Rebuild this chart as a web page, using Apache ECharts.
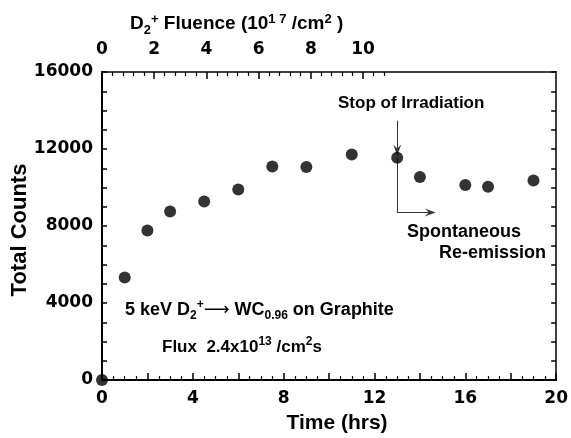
<!DOCTYPE html>
<html><head><meta charset="utf-8">
<script src="https://cdn.jsdelivr.net/npm/echarts@6/dist/echarts.min.js"></script>
<style>html,body{margin:0;padding:0;background:#fff}#c{width:571px;height:438px}</style>
</head><body><div id="c"></div>
<script>
// ---- data ----
const timeHrs = [0, 1, 2, 3, 4.5, 6, 7.5, 9, 11, 13, 14, 16, 17, 19];
const totalCounts = [0, 5330, 7770, 8750, 9270, 9890, 11090, 11060, 11720, 11540, 10540, 10130, 10040, 10360];
const timeTickLabels = [0, 4, 8, 12, 16, 20];
const countTickLabels = [0, 4000, 8000, 12000, 16000];
const fluenceTickLabels = [0, 2, 4, 6, 8, 10];
const fluenceMinorTicks = [0.4, 0.8, 1.2, 1.6, 2.4, 2.8, 3.2, 3.6, 4.4, 4.8, 5.2, 5.6, 6.4, 6.8, 7.2, 7.6, 8.4, 8.8, 9.2, 9.6, 10.4, 10.8];

// annotation arrows (data units)
const stopArrow = [[13, 13470], [13, 11950]];
const reemitStem = [[13, 11540], [13, 8700]];
const reemitArrow = [[13, 8700], [14.45, 8700]];

const FONT = '"Liberation Sans", Arial, Helvetica, sans-serif';
const NUMFONT = '"DejaVu Sans", "Liberation Sans", sans-serif';
const chevron = 'path://M5,0 L10,10 L5,6 L0,10 Z';

const chart = echarts.init(document.getElementById('c'), null, {renderer: 'canvas'});

const labelStyle = {color: '#000', fontFamily: NUMFONT, fontWeight: 'bold', fontSize: 17};
const plain = v => String(v);
const sub = (fs, shift) => ({fontSize: fs, fontWeight: 'bold', fontFamily: FONT, fill: '#000', padding: [shift, 0, 0, 0]});
const sup = (fs, shift) => ({fontSize: fs, fontWeight: 'bold', fontFamily: FONT, fill: '#000', padding: [0, 0, shift, 0]});

chart.setOption({
  animation: false,
  backgroundColor: '#fff',
  grid: {left: 102, right: 12, top: 72, bottom: 58, containLabel: false},
  xAxis: [
    {
      type: 'value', position: 'bottom', min: 0, max: 20, interval: 2,
      axisLine: {show: true, onZero: false, lineStyle: {color: '#000', width: 2}},
      axisTick: {show: true, inside: true, length: 7, lineStyle: {color: '#000', width: 1.5}},
      minorTick: {show: true, splitNumber: 4, length: 4, lineStyle: {color: '#000', width: 1.2}},
      axisLabel: Object.assign({margin: 10, customValues: timeTickLabels, formatter: plain}, labelStyle),
      splitLine: {show: false}, minorSplitLine: {show: false}
    },
    {
      type: 'value', position: 'top', min: 0, max: 17.4,
      axisLine: {show: true, onZero: false, lineStyle: {color: '#000', width: 1.5}},
      axisTick: {show: true, inside: true, length: 7, customValues: fluenceTickLabels, lineStyle: {color: '#000', width: 1.5}},
      axisLabel: Object.assign({margin: 14, customValues: fluenceTickLabels, formatter: plain}, labelStyle),
      splitLine: {show: false}
    },
    {
      type: 'value', position: 'top', min: 0, max: 17.4,
      axisLine: {show: false, onZero: false},
      axisTick: {show: true, inside: true, length: 4, customValues: fluenceMinorTicks, lineStyle: {color: '#000', width: 1.2}},
      axisLabel: {show: false},
      splitLine: {show: false}
    }
  ],
  yAxis: [
    {
      type: 'value', position: 'left', min: 0, max: 16000, interval: 4000,
      axisLine: {show: true, onZero: false, lineStyle: {color: '#000', width: 2}},
      axisTick: {show: true, inside: true, length: 5, lineStyle: {color: '#000', width: 1.5}},
      minorTick: {show: true, splitNumber: 4, length: 5, lineStyle: {color: '#000', width: 1.5}},
      axisLabel: Object.assign({margin: 9, customValues: countTickLabels, formatter: plain}, labelStyle),
      splitLine: {show: false}, minorSplitLine: {show: false}
    },
    {
      type: 'value', position: 'right', min: 0, max: 16000, interval: 4000,
      axisLine: {show: true, onZero: false, lineStyle: {color: '#000', width: 1.5}},
      axisTick: {show: true, inside: true, length: 5, lineStyle: {color: '#000', width: 1.5}},
      minorTick: {show: true, splitNumber: 4, length: 5, lineStyle: {color: '#000', width: 1.5}},
      axisLabel: {show: false},
      splitLine: {show: false}, minorSplitLine: {show: false}
    }
  ],
  series: [{
    type: 'scatter',
    xAxisIndex: 0, yAxisIndex: 0,
    data: timeHrs.map((t, i) => [t, totalCounts[i]]),
    symbol: 'circle', symbolSize: 12,
    itemStyle: {color: '#000'},
    clip: false, z: 10,
    markLine: {
      silent: true, animation: false,
      symbol: ['none', 'none'],
      label: {show: false},
      lineStyle: {color: '#333', width: 1, type: 'solid'},
      emphasis: {disabled: true},
      data: [
        [{coord: stopArrow[0], symbol: 'none'}, {coord: stopArrow[1], symbol: chevron, symbolSize: [8, 11]}],
        [{coord: reemitStem[0], symbol: 'none'}, {coord: reemitStem[1], symbol: 'none'}],
        [{coord: reemitArrow[0], symbol: 'none'}, {coord: reemitArrow[1], symbol: chevron, symbolSize: [8, 11]}]
      ]
    }
  }],
  graphic: [
    {type: 'text', x: 130, y: 24, style: {
      text: 'D{sb|2}{sp|+} Fluence (10{sp|1 7} /cm{sp|2} )',
      font: 'bold 19px ' + FONT, fill: '#000', verticalAlign: 'middle', align: 'left',
      rich: {sb: sub(13, 12), sp: sup(13, 10)}
    }},
    {type: 'text', x: 20, y: 230, rotation: Math.PI / 2, style: {
      text: 'Total Counts', font: 'bold 22px ' + FONT, fill: '#000', align: 'center', verticalAlign: 'middle'
    }},
    {type: 'text', x: 337, y: 423, style: {
      text: 'Time (hrs)', font: 'bold 21px ' + FONT, fill: '#000', align: 'center', verticalAlign: 'middle'
    }},
    {type: 'text', x: 338, y: 103, style: {
      text: 'Stop of Irradiation', font: 'bold 17px ' + FONT, fill: '#000', align: 'left', verticalAlign: 'middle'
    }},
    {type: 'text', x: 407, y: 232, style: {
      text: 'Spontaneous', font: 'bold 18px ' + FONT, fill: '#000', align: 'left', verticalAlign: 'middle'
    }},
    {type: 'text', x: 546, y: 253, style: {
      text: 'Re-emission', font: 'bold 18px ' + FONT, fill: '#000', align: 'right', verticalAlign: 'middle'
    }},
    {type: 'text', x: 125, y: 310, style: {
      text: '5 keV D{sb|2}{sp|+}{ar|\u27F6} WC{sb|0.96} on Graphite',
      font: 'bold 18px ' + FONT, fill: '#000', align: 'left', verticalAlign: 'middle',
      rich: {sb: sub(12, 12), sp: sup(12, 10),
             ar: {fontSize: 18, fontFamily: '"DejaVu Sans", sans-serif', fill: '#000'}}
    }},
    {type: 'text', x: 162, y: 347, style: {
      text: 'Flux  2.4x10{sp|13} /cm{sp|2}s',
      font: 'bold 17px ' + FONT, fill: '#000', align: 'left', verticalAlign: 'middle',
      rich: {sp: sup(12, 10)}
    }}
  ]
});
</script>
</body></html>
